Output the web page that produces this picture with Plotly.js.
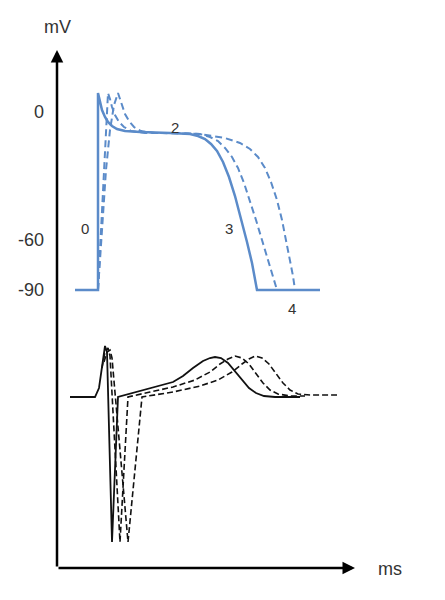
<!DOCTYPE html>
<html>
<head>
<meta charset="utf-8">
<script src="https://cdn.plot.ly/plotly-3.0.1.min.js"></script>
<style>html,body{margin:0;padding:0;background:#fff;}#chart{width:445px;height:600px;}</style>
</head>
<body>
<div id="chart"></div>
<script>
// Action potential (arbitrary units: x = time, y = vertical position)
var apSolidX = [18, 41, 41, 43, 45, 48, 51, 55, 60, 68, 83, 113, 133, 141, 148, 154, 160, 166, 172, 178, 184, 190, 195, 198, 200, 263];
var apSolidY = [278, 278, 475, 466, 458, 451, 446, 442, 439, 437, 436, 435, 434, 432, 429, 424, 417, 406, 391, 372, 350, 326, 305, 290, 278, 278];
var apDash1X = [41, 44, 47, 49, 50, 51, 53, 55, 58, 62, 67, 74, 88, 123, 143, 153, 161, 168, 175, 181, 187, 193, 199, 205, 211, 216, 220];
var apDash1Y = [278, 338, 398, 438, 463, 475, 469, 461, 453, 446, 441, 437, 435, 435, 434, 431, 427, 420, 411, 400, 385, 367, 348, 328, 308, 290, 278];
var apDash2X = [41, 45, 49, 53, 57, 61, 63, 65, 68, 72, 77, 84, 98, 143, 168, 183, 193, 201, 208, 214, 220, 225, 229, 233, 236, 238];
var apDash2Y = [278, 338, 398, 438, 463, 475, 469, 462, 454, 447, 441, 437, 435, 434, 430, 425, 419, 411, 400, 386, 368, 348, 328, 308, 292, 278];

// ECG traces
var ecgSolidX = [13, 38, 42, 45, 47, 48, 50, 55, 61, 88, 116, 126, 136, 146, 153, 158, 164, 171, 178, 185, 192, 199, 207, 218, 243];
var ecgSolidY = [171, 171, 180, 200, 218, 222, 216, 26, 171, 178, 186, 192, 200, 207, 210, 211, 210, 205, 197, 188, 180, 175, 172, 171, 171];
var ecgDash1X = [45, 48, 51, 53, 63, 71, 93, 116, 138, 153, 163, 171, 178, 185, 192, 199, 206, 213, 221, 233, 248];
var ecgDash1Y = [200, 216, 220, 212, 26, 171, 176, 181, 188, 196, 204, 209, 212, 210, 204, 195, 185, 178, 174, 172, 172];
var ecgDash2X = [47, 50, 53, 55, 71, 85, 116, 143, 161, 175, 185, 192, 198, 205, 212, 219, 226, 233, 241, 253, 280];
var ecgDash2Y = [206, 216, 218, 210, 26, 171, 176, 182, 188, 196, 204, 209, 212, 210, 204, 195, 185, 178, 174, 173, 173];

// Axis tick labels
var tickVals = [456, 328, 278];
var tickText = ['0', '-60', '-90'];

// Phase labels
var phaseText = ['0', '2', '3', '4'];
var phaseX = [28, 118, 172, 235];
var phaseY = [340, 441, 340, 260];

var blue = '#5b8bc9';
var font = 'Liberation Sans, Arial, Helvetica, sans-serif';

var traces = [
  {x: apSolidX, y: apSolidY, mode: 'lines', line: {color: blue, width: 2.5}},
  {x: apDash1X, y: apDash1Y, mode: 'lines', line: {color: blue, width: 2, dash: '7px,4px'}},
  {x: apDash2X, y: apDash2Y, mode: 'lines', line: {color: blue, width: 2, dash: '7px,4px'}},
  {x: ecgSolidX, y: ecgSolidY, mode: 'lines', line: {color: '#111', width: 1.8}},
  {x: ecgDash1X, y: ecgDash1Y, mode: 'lines', line: {color: '#111', width: 1.6, dash: '6px,3px'}},
  {x: ecgDash2X, y: ecgDash2Y, mode: 'lines', line: {color: '#111', width: 1.6, dash: '6px,3px'}}
];

var annotations = [
  // y axis with arrow
  {x: 0, y: 518, ax: 0, ay: 0, xref: 'x', yref: 'y', axref: 'x', ayref: 'y', text: '', showarrow: true,
   arrowhead: 2, arrowsize: 1, arrowwidth: 2.5, arrowcolor: '#000'},
  // x axis with arrow
  {x: 298, y: 0, ax: 0, ay: 0, xref: 'x', yref: 'y', axref: 'x', ayref: 'y', text: '', showarrow: true,
   arrowhead: 2, arrowsize: 1, arrowwidth: 2.5, arrowcolor: '#000'},
  {x: 0.002, y: 1.04, xref: 'paper', yref: 'paper', xanchor: 'center', yanchor: 'middle', text: 'mV', showarrow: false,
   font: {family: font, size: 18, color: '#333'}},
  {x: 1.11, y: -0.002, xref: 'paper', yref: 'paper', xanchor: 'center', yanchor: 'middle', text: 'ms', showarrow: false,
   font: {family: font, size: 18, color: '#333'}}
];
for (var i = 0; i < phaseText.length; i++) {
  annotations.push({x: phaseX[i], y: phaseY[i], xref: 'x', yref: 'y', text: phaseText[i], showarrow: false,
    font: {family: font, size: 15, color: '#333'}});
}

var layout = {
  width: 445, height: 600,
  margin: {l: 57, r: 88, t: 48, b: 32, pad: 0},
  paper_bgcolor: '#fff', plot_bgcolor: '#fff',
  showlegend: false,
  xaxis: {range: [0, 300], showgrid: false, zeroline: false, showline: false, showticklabels: false, ticks: ''},
  yaxis: {range: [0, 520], showgrid: false, zeroline: false, showline: false, ticks: '',
          tickmode: 'array', tickvals: tickVals, ticktext: tickText, ticklabelstandoff: 12,
          tickfont: {family: font, size: 18, color: '#333'}},
  annotations: annotations
};

Plotly.newPlot('chart', traces, layout, {displayModeBar: false, staticPlot: true});
</script>
</body>
</html>
